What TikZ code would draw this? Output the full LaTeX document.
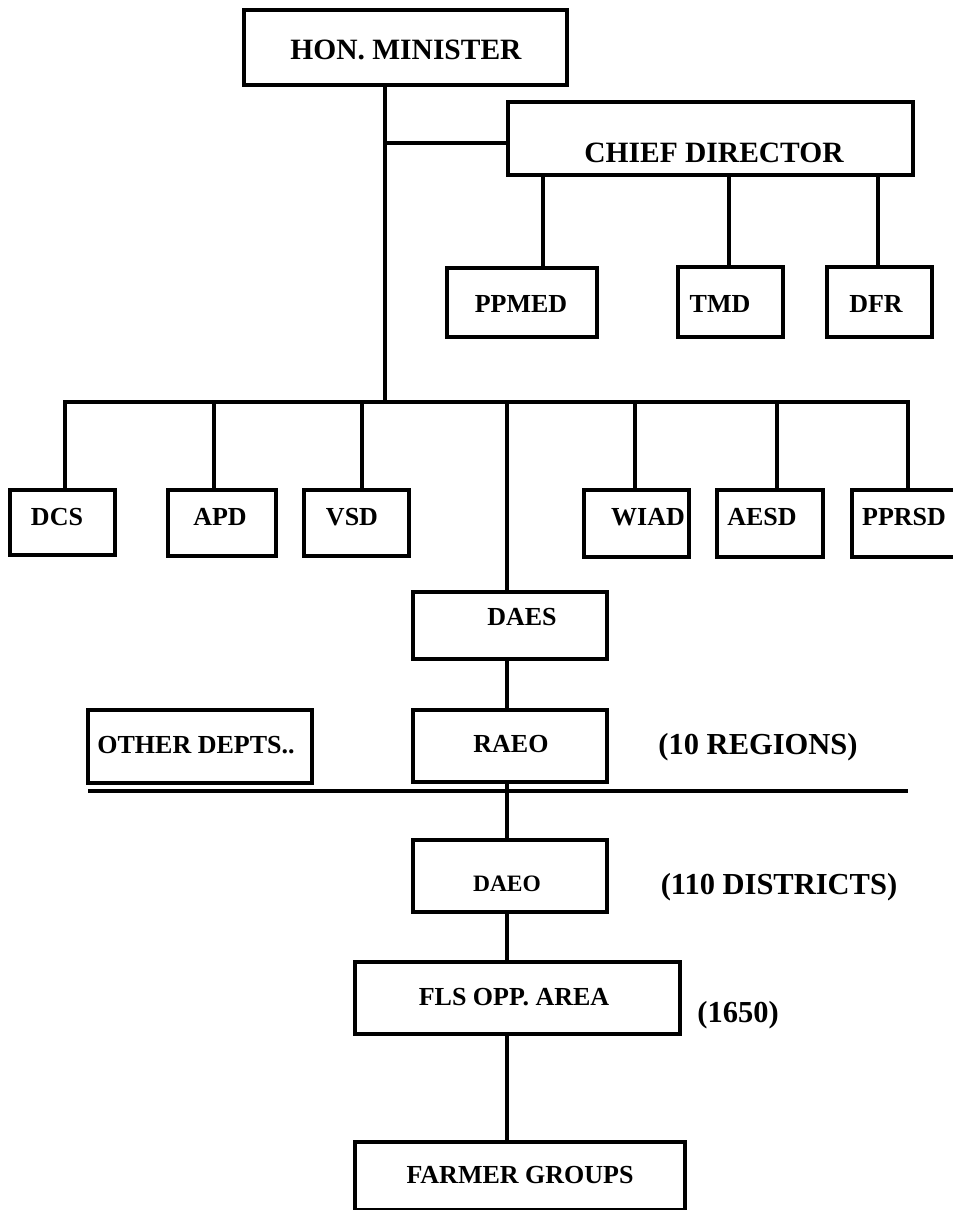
\documentclass[tikz,border=0pt]{standalone}
\usepackage{fontspec}
\setmainfont{Liberation Serif}
\begin{document}
\begin{tikzpicture}[x=1pt,y=-1pt,
  box/.style={draw, line width=4pt, inner sep=0pt},
  conn/.style={line width=3.2pt},
  lbl/.style={anchor=base, inner sep=0pt, font=\bfseries\fontsize{26}{26}\selectfont},
  hdr/.style={lbl, font=\bfseries\fontsize{29.5}{29.5}\selectfont},
  note/.style={lbl, font=\bfseries\fontsize{30.5}{30.5}\selectfont}]
\useasboundingbox (0,0) rectangle (953,1210);
% boxes
\node[box, minimum width=323pt, minimum height=75pt] (hon) at (405.5,47.5) {};
\node[box, minimum width=405pt, minimum height=73pt] (cd) at (710.5,138.5) {};
\node[box, minimum width=150pt, minimum height=69pt] (ppmed) at (522,302.5) {};
\node[box, minimum width=105pt, minimum height=70pt] (tmd) at (730.5,302) {};
\node[box, minimum width=105pt, minimum height=70pt] (dfr) at (879.5,302) {};
\node[box, minimum width=105pt, minimum height=65pt] (dcs) at (62.5,522.5) {};
\node[box, minimum width=108pt, minimum height=66pt] (apd) at (222,523) {};
\node[box, minimum width=105pt, minimum height=66pt] (vsd) at (356.5,523) {};
\node[box, minimum width=105pt, minimum height=67pt] (wiad) at (636.5,523.5) {};
\node[box, minimum width=106pt, minimum height=67pt] (aesd) at (770,523.5) {};
\node[box, minimum width=108pt, minimum height=67pt] (pprsd) at (906,523.5) {};
\node[box, minimum width=194pt, minimum height=67pt] (daes) at (510,625.5) {};
\node[box, minimum width=194pt, minimum height=72pt] (raeo) at (510,746) {};
\node[box, minimum width=224pt, minimum height=73pt] (other) at (200,746.5) {};
\node[box, minimum width=194pt, minimum height=72pt] (daeo) at (510,876) {};
\node[box, minimum width=325pt, minimum height=72pt] (fls) at (517.5,998) {};
\node[box, minimum width=330pt, minimum height=68pt] (farmer) at (520,1176) {};
% texts
\node[hdr] (thon) at (406,59) {HON. MINISTER};
\node[hdr] (tcd) at (714,162) {CHIEF DIRECTOR};
\node[lbl] (tppmed) at (521,312) {PPMED};
\node[lbl] (ttmd) at (720,312) {TMD};
\node[lbl] (tdfr) at (876,312) {DFR};
\node[lbl] (tdcs) at (57,525) {DCS};
\node[lbl] (tapd) at (220,525) {APD};
\node[lbl] (tvsd) at (352,525) {VSD};
\node[lbl] (twiad) at (648,525) {WIAD};
\node[lbl] (taesd) at (762,525) {AESD};
\node[lbl] (tpprsd) at (904,525) {PPRSD};
\node[lbl] (tdaes) at (522,625) {DAES};
\node[lbl] (traeo) at (511,752) {RAEO};
\node[lbl] (tother) at (196,753) {OTHER DEPTS..};
\node[note] (treg) at (758,754) {(10 REGIONS)};
\node[lbl, font=\bfseries\fontsize{23.5}{23.5}\selectfont] (tdaeo) at (507,891) {DAEO};
\node[note] (tdist) at (779,894) {(110 DISTRICTS)};
\node[lbl] (tfls) at (514,1005) {FLS OPP. AREA};
\node[note] (tnum) at (738,1022) {(1650)};
\node[lbl] (tfarmer) at (520,1183) {FARMER GROUPS};
% junction coordinates
\coordinate (j1) at (385,143);
\coordinate (bus) at (385,402);
\coordinate (xa) at (543,0);
\coordinate (xb) at (729,0);
\coordinate (xc) at (878,0);
\coordinate (b1) at (65,402);
\coordinate (b2) at (214,402);
\coordinate (b3) at (362,402);
\coordinate (b4) at (507,402);
\coordinate (b5) at (635,402);
\coordinate (b6) at (777,402);
\coordinate (b7) at (908,402);
\coordinate (hl) at (88,791);
\coordinate (hr) at (908,791);
% connectors
\draw[conn] (hon.south -| j1) -- (bus);
\draw[conn] (j1) -- (j1 -| cd.west);
\draw[conn] (cd.south -| xa) -- (ppmed.north -| xa);
\draw[conn] (cd.south -| xb) -- (tmd.north -| xb);
\draw[conn] (cd.south -| xc) -- (dfr.north -| xc);
\draw[conn] (dcs.north -| b1) -- (b1) -- (b7) -- (pprsd.north -| b7);
\draw[conn] (b2) -- (apd.north -| b2);
\draw[conn] (b3) -- (vsd.north -| b3);
\draw[conn] (b4) -- (daes.north -| b4);
\draw[conn] (b5) -- (wiad.north -| b5);
\draw[conn] (b6) -- (aesd.north -| b6);
\draw[conn] (daes.south -| b4) -- (raeo.north -| b4);
\draw[line width=4pt] (hl) -- (hr);
\draw[conn] (raeo.south -| b4) -- (daeo.north -| b4);
\draw[conn] (daeo.south -| b4) -- (fls.north -| b4);
\draw[conn] (fls.south -| b4) -- (farmer.north -| b4);
\end{tikzpicture}
\end{document}
